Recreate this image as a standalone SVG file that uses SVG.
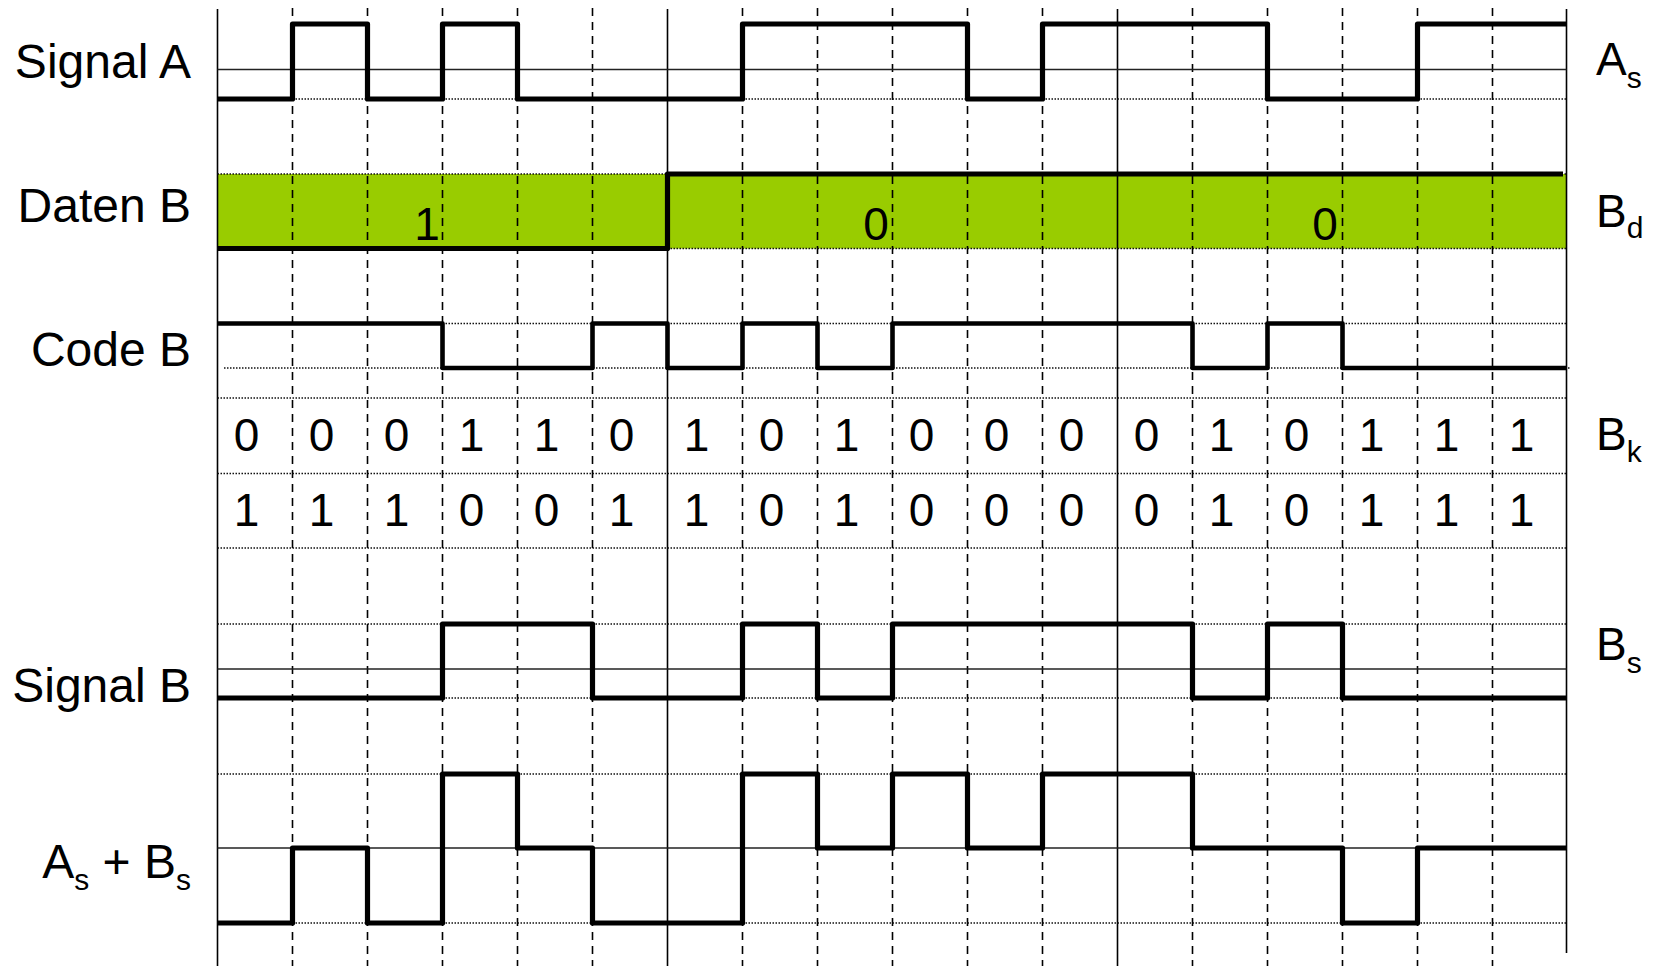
<svg xmlns="http://www.w3.org/2000/svg" width="1656" height="966" viewBox="0 0 1656 966">
<style>
.lbl{font-family:"Liberation Sans",Arial,sans-serif;font-size:48px;fill:#000}
.rl{font-family:"Liberation Sans",Arial,sans-serif;font-size:46px;fill:#000}
.dig{font-family:"Liberation Sans",Arial,sans-serif;font-size:46px;fill:#000;text-anchor:middle}
.sub{font-size:30px}
.sig{fill:none;stroke:#000;stroke-width:5.2;stroke-linejoin:round}
.vs{stroke:#000;stroke-width:1.6}
.vd{stroke:#000;stroke-width:1.6;stroke-dasharray:8 6}
.hs{stroke:#222;stroke-width:1.6}
.ht{stroke:#111;stroke-width:1.3;stroke-dasharray:1.5 1.5}
</style>
<rect width="1656" height="966" fill="#fff"/>
<g id="daten-b-fill">
<rect x="217.5" y="174" width="1349" height="74.5" fill="#99CC00"/>
</g>
<g id="grid">
<line class="vd" x1="292.5" y1="8" x2="292.5" y2="966"/>
<line class="vd" x1="367.5" y1="8" x2="367.5" y2="966"/>
<line class="vd" x1="442.5" y1="8" x2="442.5" y2="966"/>
<line class="vd" x1="517.5" y1="8" x2="517.5" y2="966"/>
<line class="vd" x1="592.5" y1="8" x2="592.5" y2="966"/>
<line class="vd" x1="742.5" y1="8" x2="742.5" y2="966"/>
<line class="vd" x1="817.5" y1="8" x2="817.5" y2="966"/>
<line class="vd" x1="892.5" y1="8" x2="892.5" y2="966"/>
<line class="vd" x1="967.5" y1="8" x2="967.5" y2="966"/>
<line class="vd" x1="1042.5" y1="8" x2="1042.5" y2="966"/>
<line class="vd" x1="1192.5" y1="8" x2="1192.5" y2="966"/>
<line class="vd" x1="1267.5" y1="8" x2="1267.5" y2="966"/>
<line class="vd" x1="1342.5" y1="8" x2="1342.5" y2="966"/>
<line class="vd" x1="1417.5" y1="8" x2="1417.5" y2="966"/>
<line class="vd" x1="1492.5" y1="8" x2="1492.5" y2="966"/>
<line class="vs" x1="217.5" y1="9" x2="217.5" y2="966"/>
<line class="vs" x1="667.5" y1="9" x2="667.5" y2="966"/>
<line class="vs" x1="1117.5" y1="9" x2="1117.5" y2="966"/>
<line class="vs" x1="1566.5" y1="9" x2="1566.5" y2="953"/>
<line class="hs" x1="217.5" y1="69.5" x2="1566.5" y2="69.5"/>
<line class="hs" x1="217.5" y1="669" x2="1566.5" y2="669"/>
<line class="hs" x1="217.5" y1="848" x2="1566.5" y2="848"/>
<line class="ht" x1="217.5" y1="99" x2="1566.5" y2="99"/>
<line class="ht" x1="217.5" y1="174" x2="1566.5" y2="174"/>
<line class="ht" x1="217.5" y1="248.5" x2="1566.5" y2="248.5"/>
<line class="ht" x1="217.5" y1="323.5" x2="1566.5" y2="323.5"/>
<line class="ht" x1="224" y1="368" x2="1571" y2="368"/>
<line class="ht" x1="217.5" y1="398" x2="1566.5" y2="398"/>
<line class="ht" x1="217.5" y1="473.5" x2="1566.5" y2="473.5"/>
<line class="ht" x1="217.5" y1="548" x2="1566.5" y2="548"/>
<line class="ht" x1="217.5" y1="624" x2="1566.5" y2="624"/>
<line class="ht" x1="217.5" y1="698" x2="1566.5" y2="698"/>
<line class="ht" x1="217.5" y1="774" x2="1566.5" y2="774"/>
<line class="ht" x1="217.5" y1="923" x2="1566.5" y2="923"/>
</g>
<g id="signal-a">
<path class="sig" d="M217.5,99 H292.5 V24 H367.5 V99 H442.5 V24 H517.5 V99 H742.5 V24 H967.5 V99 H1042.5 V24 H1267.5 V99 H1417.5 V24 H1566.5"/>
<text class="lbl" x="191" y="78" text-anchor="end">Signal A</text>
<text class="rl" x="1596" y="75">A<tspan class="sub" dy="13">s</tspan></text>
</g>
<g id="daten-b">
<path class="sig" d="M217.5,248.5 H667.5 V174 H1563"/>
<text class="dig" x="427" y="240">1</text>
<text class="dig" x="876" y="240">0</text>
<text class="dig" x="1325" y="240">0</text>
<text class="lbl" x="191" y="222" text-anchor="end">Daten B</text>
<text class="rl" x="1596" y="227">B<tspan class="sub" dy="11">d</tspan></text>
</g>
<g id="code-b">
<path class="sig" style="stroke-width:4.6" d="M217.5,323.5 H442.5 V368 H592.5 V323.5 H667.5 V368 H742.5 V323.5 H817.5 V368 H892.5 V323.5 H1192.5 V368 H1267.5 V323.5 H1342.5 V368 H1566.5"/>
<text class="lbl" x="191" y="366" text-anchor="end">Code B</text>
</g>
<g id="bk-values">
<text class="dig" y="451"><tspan x="246.5">0</tspan><tspan x="321.5">0</tspan><tspan x="396.5">0</tspan><tspan x="471.5">1</tspan><tspan x="546.5">1</tspan><tspan x="621.5">0</tspan><tspan x="696.5">1</tspan><tspan x="771.5">0</tspan><tspan x="846.5">1</tspan><tspan x="921.5">0</tspan><tspan x="996.5">0</tspan><tspan x="1071.5">0</tspan><tspan x="1146.5">0</tspan><tspan x="1221.5">1</tspan><tspan x="1296.5">0</tspan><tspan x="1371.5">1</tspan><tspan x="1446.5">1</tspan><tspan x="1521.5">1</tspan></text>
<text class="dig" y="526"><tspan x="246.5">1</tspan><tspan x="321.5">1</tspan><tspan x="396.5">1</tspan><tspan x="471.5">0</tspan><tspan x="546.5">0</tspan><tspan x="621.5">1</tspan><tspan x="696.5">1</tspan><tspan x="771.5">0</tspan><tspan x="846.5">1</tspan><tspan x="921.5">0</tspan><tspan x="996.5">0</tspan><tspan x="1071.5">0</tspan><tspan x="1146.5">0</tspan><tspan x="1221.5">1</tspan><tspan x="1296.5">0</tspan><tspan x="1371.5">1</tspan><tspan x="1446.5">1</tspan><tspan x="1521.5">1</tspan></text>
<text class="rl" x="1596" y="450">B<tspan class="sub" dy="12">k</tspan></text>
</g>
<g id="signal-b">
<path class="sig" d="M217.5,698 H442.5 V624 H592.5 V698 H742.5 V624 H817.5 V698 H892.5 V624 H1192.5 V698 H1267.5 V624 H1342.5 V698 H1566.5"/>
<text class="lbl" x="191" y="702" text-anchor="end">Signal B</text>
<text class="rl" x="1596" y="660">B<tspan class="sub" dy="13">s</tspan></text>
</g>
<g id="sum-as-bs">
<path class="sig" d="M217.5,923 H292.5 V848 H367.5 V923 H442.5 V774 H517.5 V848 H592.5 V923 H742.5 V774 H817.5 V848 H892.5 V774 H967.5 V848 H1042.5 V774 H1192.5 V848 H1342.5 V923 H1417.5 V848 H1566.5"/>
<text class="lbl" x="191" y="878" text-anchor="end">A<tspan class="sub" dy="12">s</tspan><tspan dy="-12"> + B</tspan><tspan class="sub" dy="12">s</tspan></text>
</g>
<g id="connectors"></g>
</svg>
